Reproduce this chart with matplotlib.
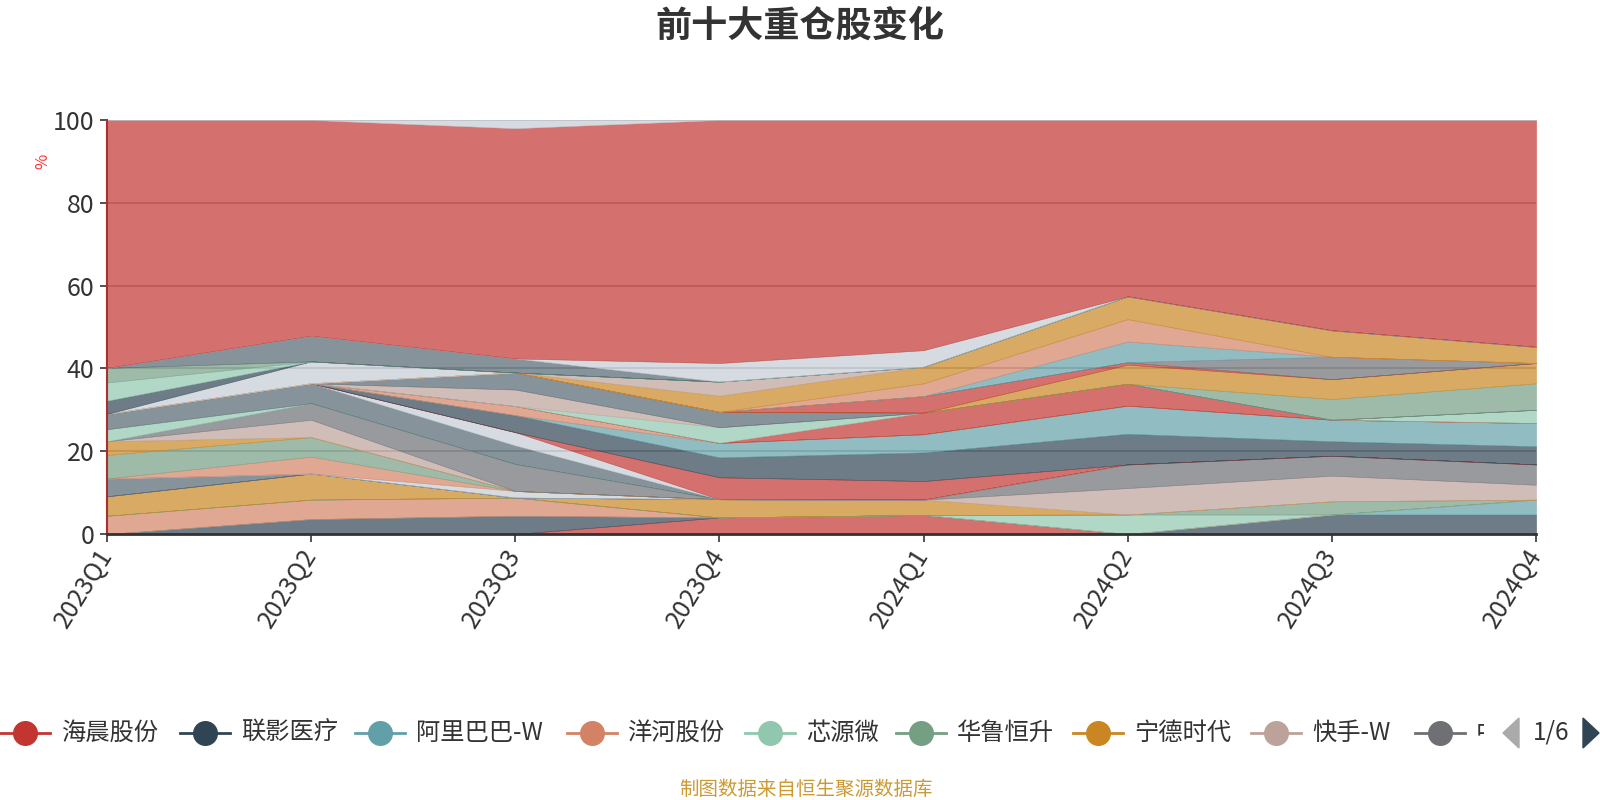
import matplotlib
matplotlib.use("Agg")
import numpy as np
import matplotlib.pyplot as plt
from matplotlib.lines import Line2D
from matplotlib.patches import Polygon, Rectangle

plt.rcParams['font.family'] = ['Noto Sans CJK SC', 'DejaVu Sans']

# quarters on the x axis
quarters = ["2023Q1", "2023Q2", "2023Q3", "2023Q4", "2024Q1", "2024Q2", "2024Q3", "2024Q4"]

# names shown on the first legend page
legend_names = ["海晨股份", "联影医疗", "阿里巴巴-W", "洋河股份", "芯源微",
                "华鲁恒升", "宁德时代", "快手-W", "中芯国际"]

# echarts default palette
palette = {
    "R": "#c23531", "D": "#2f4554", "T": "#61a0a8", "O": "#d48265",
    "G": "#91c7ae", "H": "#749f83", "Y": "#ca8622", "K": "#bda29a",
    "M": "#6e7074", "S": "#546570", "L": "#c4ccd3",
}

# colour key of every stacked series, bottom to top
series_keys = ["R", "D", "T", "O", "G", "H", "Y", "K", "M",
               "S", "L", "O", "H", "Y", "K", "M", "G", "S", "L",
               "R", "D", "T", "O", "R", "G", "K", "S", "H", "Y",
               "R", "M", "T", "O", "Y", "K", "L", "D", "G", "H",
               "S", "L", "R", "L"]

# holding share (%) per quarter, bottom to top
series_values = [
    [0, 0, 0, 4.0, 4.6, 0, 0, 0],
    [0, 3.6, 4.4, 0, 0, 0, 4.7, 4.7],
    [0, 0, 0, 0, 0, 0, 0, 3.6],
    [4.4, 4.7, 4.4, 0, 0, 0, 0, 0],
    [0, 0, 0, 0, 0, 4.7, 0, 0],
    [0, 0, 0, 0, 0, 0, 3.2, 0],
    [4.7, 6.3, 0, 4.4, 3.7, 0, 0, 0],
    [0, 0, 0, 0, 0, 6.4, 6.2, 3.6],
    [0, 0, 0, 0, 0, 5.7, 4.8, 4.9],
    [4.3, 0, 0, 0, 0, 0, 0, 0],
    [0, 0, 1.6, 0, 0, 0, 0, 0],
    [0, 4.1, 0, 0, 0, 0, 0, 0],
    [5.7, 4.7, 0, 0, 0, 0, 0, 0],
    [3.3, 0, 0, 0, 0, 0, 0, 0],
    [0, 4.2, 0, 0, 0, 0, 0, 0],
    [0, 4.0, 6.5, 0, 0, 0, 0, 0],
    [2.9, 0, 0, 0, 0, 0, 0, 0],
    [3.7, 4.8, 4.5, 0, 0, 0, 0, 0],
    [0, 0, 3.2, 0, 0, 0, 0, 0],
    [0, 0, 0, 5.3, 4.5, 0, 0, 0],
    [0, 0, 4.1, 4.8, 6.9, 7.4, 3.5, 4.4],
    [0, 0, 0, 3.5, 4.4, 6.8, 5.2, 5.6],
    [0, 0, 2.2, 0, 0, 0, 0, 0],
    [0, 0, 0, 0, 5.2, 5.3, 0, 0],
    [0, 0, 0, 3.8, 0, 0, 0, 3.2],
    [0, 0, 4.0, 0, 0, 0, 0, 0],
    [0, 0, 4.1, 3.7, 0, 0, 0, 0],
    [0, 0, 0, 0, 0, 0, 5.0, 6.4],
    [0, 0, 0, 0, 0, 4.6, 4.8, 4.9],
    [0, 0, 0, 0, 4.0, 0.6, 0, 0],
    [0, 0, 0, 0, 0, 0, 5.4, 0],
    [0, 0, 0, 0, 0, 5.0, 0, 0],
    [0, 0, 0, 0, 3.1, 5.4, 0, 0],
    [0, 0, 0, 3.9, 4.0, 5.5, 6.4, 3.9],
    [0, 0, 0, 3.4, 0, 0, 0, 0],
    [0, 5.3, 0, 0, 0, 0, 0, 0],
    [3.2, 0, 0, 0, 0, 0, 0, 0],
    [4.4, 0, 0, 0, 0, 0, 0, 0],
    [3.5, 0, 0, 0, 0, 0, 0, 0],
    [0, 6.2, 3.4, 0, 0, 0, 0, 0],
    [0, 0, 0, 4.5, 4.0, 0, 0, 0],
    [59.9, 52.1, 55.6, 58.7, 55.6, 42.6, 50.8, 54.8],
    [0, 0, 2.0, 0, 0, 0, 0, 0],
]

W, H = 1600, 800
fig = plt.figure(figsize=(16, 8), dpi=100)
ax = fig.add_axes([107 / W, 266 / H, (1536 - 107) / W, (534 - 120) / H])

colors = [palette[k] for k in series_keys]
xs = np.arange(len(quarters))
polys = ax.stackplot(xs, *series_values, colors=colors, alpha=0.7, linewidth=0.4)
for p, c in zip(polys, colors):
    p.set_edgecolor(c)

ax.set_xlim(0, len(quarters) - 1)
ax.set_ylim(0, 100)
ax.set_yticks(range(0, 101, 20))
ax.set_axisbelow(True)
ax.grid(axis='y', color='#b0b0b0', linewidth=1.2)
ax.set_xticks(xs)
ax.set_xticklabels(quarters, rotation=58, ha='right', va='center',
                   rotation_mode='anchor', fontsize=18, color='#333333')
ax.tick_params(axis='x', length=6, width=1.2, color='#333333', pad=6)
ax.tick_params(axis='y', length=5, width=1.2, color='#333333', labelsize=18,
               labelcolor='#333333', pad=4)
for side in ['top', 'right']:
    ax.spines[side].set_visible(False)
ax.spines['bottom'].set_color('#333333')
ax.spines['bottom'].set_linewidth(2)
ax.spines['left'].set_color('#a83030')
ax.spines['left'].set_linewidth(1.5)

fig.text(43 / W, 1 - 161 / H, '%', rotation=90, color='#ff3333', fontsize=12,
         ha='center', va='center')

# title and source note
fig.text(0.5, 1 - 26 / H, '前十大重仓股变化', fontsize=26, fontweight='bold',
         color='#333333', ha='center', va='center')
fig.text(806 / W, 1 - 789 / H, '制图数据来自恒生聚源数据库', fontsize=14,
         color='#cc9933', ha='center', va='center')

# legend, first page
leg_y = 1 - 733 / H
circle_x = [25, 205, 380, 592, 770, 921, 1098, 1276, 1440]
legend_colors = colors[:9]
for name, cx, c in zip(legend_names, circle_x, legend_colors):
    fig.add_artist(Line2D([(cx - 25) / W, (cx + 25) / W], [leg_y, leg_y],
                          transform=fig.transFigure, color=c, lw=2))
    fig.add_artist(Line2D([cx / W], [leg_y], transform=fig.transFigure,
                          marker='o', markersize=17, color=c, lw=0))
    if cx == circle_x[-1]:
        # the last name is cut off by the pager
        t = fig.text((cx + 36) / W, leg_y, name[0], fontsize=17.5,
                     color='#333333', ha='left', va='center')
        clip = Rectangle((1476 / W, 0), 8 / W, 1, transform=fig.transFigure)
        t.set_clip_path(clip)
        t.set_clip_on(True)
    else:
        fig.text((cx + 36) / W, leg_y, name, fontsize=17.5, color='#333333',
                 ha='left', va='center')

# legend pager
fig.add_artist(Polygon([[1503 / W, leg_y], [1519 / W, leg_y + 15 / H],
                        [1519 / W, leg_y - 15 / H]], closed=True,
                       transform=fig.transFigure, color='#aaaaaa'))
fig.text(1551 / W, leg_y, '1/6', fontsize=17.5, color='#333333',
         ha='center', va='center')
fig.add_artist(Polygon([[1599 / W, leg_y], [1583 / W, leg_y + 15 / H],
                        [1583 / W, leg_y - 15 / H]], closed=True,
                       transform=fig.transFigure, color='#2f4554'))

fig.savefig('out.png', dpi=100)
